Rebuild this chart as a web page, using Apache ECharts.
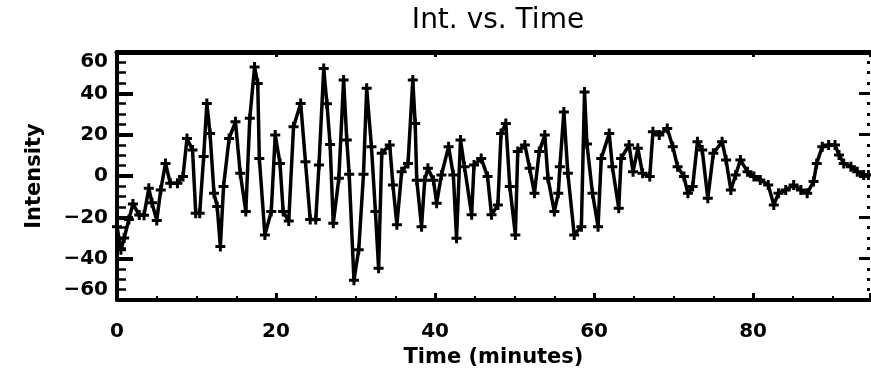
<!DOCTYPE html>
<html>
<head>
<meta charset="utf-8">
<script src="https://cdn.jsdelivr.net/npm/echarts@6/dist/echarts.min.js"></script>
<style>
html,body{margin:0;padding:0;background:#fff;}
#chart{width:871px;height:376px;}
</style>
</head>
<body>
<div id="chart"></div>
<script>
const titleText = "Int. vs. Time";
const xName = "Time (minutes)";
const yName = "Intensity";
const xTicks = [0, 20, 40, 60, 80];
const yTicks = [-60, -40, -20, 0, 20, 40, 60];

const times = [
  0, 0.5, 0.9, 1.5, 2.0, 2.8, 3.4, 4.0, 4.4, 5.0, 5.5, 6.1, 6.7, 7.6, 8.3, 8.8, 9.5, 9.9, 10.4, 10.9,
  11.3, 11.7, 12.2, 12.6, 13.0, 13.4, 14.1, 14.9, 15.5, 16.2, 16.7, 17.3, 17.7, 17.9, 18.6,
  19.4, 19.9, 20.5, 20.9, 21.6, 22.2, 23.1, 23.7, 24.3, 25.0, 25.4, 26.0, 26.4, 26.8, 27.2, 27.9,
  28.5, 28.9, 29.2, 29.8, 30.4, 31.0, 31.4, 32.0, 32.5, 32.9, 33.3, 34.3, 34.7, 35.2, 35.8, 36.6, 37.2,
  37.5, 37.7, 38.3, 38.7, 39.1, 39.8, 40.2, 40.8, 41.7, 42.3, 42.7, 43.2, 43.7, 44.6, 44.9, 45.8, 46.6,
  47.1, 47.9, 48.3, 48.9, 49.4, 50.1, 50.4, 51.3, 51.9, 52.5, 53.1, 53.8, 54.2, 55.0, 55.5, 55.7, 56.2,
  56.7, 57.5, 58.4, 58.8, 59.1, 59.8, 60.5, 60.9, 61.9, 62.3, 63.1, 63.4, 64.4, 64.9, 65.5, 66.1, 67.0,
  67.4, 68.2, 69.2, 69.9, 70.5, 71.3, 71.8, 72.4, 73.0, 73.6, 74.3, 75.0,
  76.1, 76.6, 77.2, 77.8, 78.4, 79.3, 80.1, 80.9, 81.9, 82.6, 83.2, 84.1, 85.1, 86.0, 86.8, 87.6, 88.0,
  88.7, 89.5, 90.3, 90.8, 91.4, 92.3, 93.1, 93.9, 94.5
];
const intensity = [
  -24.5, -35.7, -30, -21, -13.5, -18.9, -19, -5.9, -13, -21.5, -6.8, 6.1, -3.5, -3.5, -0.3, 18.2, 12.6, -18, -18, 9.4,
  35.1, 20.6, -8.4, -14.8, -34.1, -5.1, 18.2, 26.2, 1.3, -17.2, 27.9, 52.8, 44.8, 8.5, -28.5,
  -17.2, 19.8, 6.1, -17.2, -21.8, 23.8, 35.1, 6.9, -21, -21, 5.3, 52, 35, 15.3, -22.9, -1.1,
  46.4, 17.4, 0.8, -50.4, -35.7, 0.8, 42.4, 14.2, -17.2, -44.6, 11, 15, -4.3, -23.6, 2.1, 6.1, 46.4,
  25.4, -2, -24.5, -2, 3.7, -2, -13.2, 0.5, 14.2, 0.5, -30.1, 17.4, 4.5, -18.8, 5.3, 8.5, -0.3,
  -18.8, -14, 20.6, 25.4, -5.1, -28.5, 11.8, 15, 3.7, -8.4, 11.8, 19.8, -1.1, -17.2, -8.4, 4.5, 31,
  1.3, -28.5, -24.5, 40.7, 15.5, -8.4, -24.5, 8.5, 20.6, 4.5, -15.6, 8.5, 15, 2.1, 13.4, 1.3, -0.3,
  21.4, 19.8, 23, 14.2, 4.5, -0.3, -8.4, -5.1, 16.6, 12.6, -10.8, 11,
  16.6, 7.7, -6.8, 0.5, 7.7, 2.1, -0.3, -1.9, -4.3, -14, -8.4, -6.8, -4.3, -6.8, -8.4, -2.7, 6.1,
  14.2, 15, 15, 10.2, 6.1, 4.5, 2.1, 0.5, 0.5
];

const xMax = 94.7;
const labelFont = { fontFamily: "DejaVu Sans", fontWeight: "bold", fontSize: 20, color: "#000" };

const chart = echarts.init(document.getElementById('chart'), null, { renderer: 'canvas' });
const data = times.map((t, i) => [t, intensity[i]]);

chart.setOption({
  animation: false,
  backgroundColor: '#fff',
  title: {
    text: titleText,
    left: 493, top: 2, textAlign: 'center',
    textStyle: { fontFamily: "DejaVu Sans", fontWeight: "normal", fontSize: 28, color: "#000" }
  },
  grid: { left: 117, right: 1, top: 52, bottom: 76 },
  xAxis: [{
    type: 'value', min: 0, max: xMax, interval: 20, position: 'bottom',
    name: xName, nameLocation: 'middle', nameGap: 46,
    nameTextStyle: { fontFamily: "DejaVu Sans", fontWeight: "bold", fontSize: 21, color: "#000" },
    axisLine: { show: true, onZero: false, lineStyle: { color: '#000', width: 4 } },
    axisTick: { show: true, inside: true, length: 7, lineStyle: { color: '#000', width: 3 } },
    minorTick: { show: true, splitNumber: 4, length: 4, lineStyle: { color: '#000', width: 2 } },
    axisLabel: Object.assign({ margin: 22, showMaxLabel: false,
      formatter: v => xTicks.includes(v) ? String(v) : '' }, labelFont),
    splitLine: { show: false }
  }, {
    type: 'value', min: 0, max: xMax, interval: 20, position: 'top',
    axisLine: { show: true, onZero: false, lineStyle: { color: '#000', width: 5 } },
    axisTick: { show: true, inside: true, length: 5, lineStyle: { color: '#000', width: 3 } },
    axisLabel: { show: false },
    splitLine: { show: false }
  }],
  yAxis: [{
    type: 'value', min: -60, max: 60, interval: 20, position: 'left',
    name: yName, nameLocation: 'middle', nameGap: 72, nameRotate: 90,
    nameTextStyle: { fontFamily: "DejaVu Sans", fontWeight: "bold", fontSize: 21, color: "#000" },
    axisLine: { show: true, onZero: false, lineStyle: { color: '#000', width: 4 } },
    axisTick: { show: true, inside: true, length: 16, lineStyle: { color: '#000', width: 4 } },
    minorTick: { show: true, splitNumber: 4, length: 9, lineStyle: { color: '#000', width: 2.5 } },
    axisLabel: Object.assign({ margin: 9,
      verticalAlignMinLabel: 'bottom', verticalAlignMaxLabel: 'top',
      formatter: v => yTicks.includes(v) ? (v < 0 ? '\u2212' + Math.abs(v) : String(v)) : '' }, labelFont),
    splitLine: { show: false }
  }, {
    type: 'value', min: -60, max: 60, interval: 20, position: 'right',
    axisLine: { show: false, onZero: false },
    axisTick: { show: true, inside: true, length: 11, lineStyle: { color: '#000', width: 3 } },
    minorTick: { show: true, splitNumber: 4, length: 3, lineStyle: { color: '#000', width: 3 } },
    axisLabel: { show: false },
    splitLine: { show: false }
  }],
  series: [{
    type: 'line',
    data: data,
    xAxisIndex: 0, yAxisIndex: 0,
    lineStyle: { color: '#000', width: 3.5 },
    itemStyle: { color: '#000' },
    symbol: 'path://M3.5,0H6.5V3.5H10V6.5H6.5V10H3.5V6.5H0V3.5H3.5Z',
    symbolSize: 10,
    showAllSymbol: true,
    clip: true
  }]
});
</script>
</body>
</html>
